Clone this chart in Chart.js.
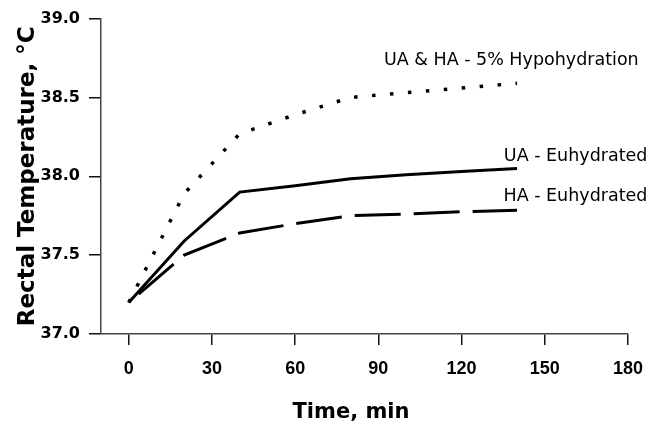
<!DOCTYPE html>
<html>
<head>
<meta charset="utf-8">
<script src="https://cdn.jsdelivr.net/npm/chart.js"></script>
<style>
  html, body { margin: 0; padding: 0; background: #fff; }
  #wrap { width: 652px; height: 428px; }
</style>
</head>
<body>
<div id="wrap"><canvas id="line-chart" width="652" height="428"></canvas></div>
<script>
// values (time in min, rectal temperature in °C)
const times = [0, 20, 40, 60, 80, 100, 120, 140];
const uaEuhydrated = [37.2, 37.59, 37.9, 37.94, 37.985, 38.01, 38.03, 38.05];
const haEuhydrated = [37.2, 37.5, 37.64, 37.7, 37.75, 37.76, 37.775, 37.785];
const hypohydrated = [37.2, 37.89, 38.27, 38.39, 38.5, 38.53, 38.56, 38.59];

const xTicks = [0, 30, 60, 90, 120, 150, 180];
const yTicks = [37.0, 37.5, 38.0, 38.5, 39.0];

const seriesNames = ['UA & HA - 5% Hypohydration', 'UA - Euhydrated', 'HA - Euhydrated'];

// where the series names sit, in data units
const nameSpots = [
    { x: 92, y: 38.704, align: 'left' },
    { x: 187, y: 38.094, align: 'right' },
    { x: 187, y: 37.843, align: 'right' }
];

function points(values) {
    return times.map((t, i) => ({ x: t, y: values[i] }));
}

const textPlugin = {
    id: 'texts',
    afterDraw(chart) {
        const ctx = chart.ctx;
        const xs = chart.scales.x;
        const ys = chart.scales.y;
        ctx.save();
        ctx.fillStyle = '#000';

        ctx.font = '17.5px "DejaVu Sans"';
        ctx.textBaseline = 'alphabetic';
        seriesNames.forEach((name, i) => {
            const spot = nameSpots[i];
            ctx.textAlign = spot.align;
            ctx.fillText(name, xs.getPixelForValue(spot.x), ys.getPixelForValue(spot.y));
        });

        // axis titles
        ctx.font = 'bold 21px "DejaVu Sans"';
        ctx.textAlign = 'center';
        ctx.fillText('Time, min', 351, 418);

        ctx.translate(34, (ys.top + ys.bottom) / 2);
        ctx.rotate(-Math.PI / 2);
        ctx.font = 'bold 23px "DejaVu Sans"';
        ctx.fillText('Rectal Temperature, °C', 0, 0);
        ctx.restore();
    }
};

new Chart(document.getElementById('line-chart'), {
    type: 'line',
    data: {
        datasets: [
            {
                data: points(hypohydrated),
                borderColor: '#000',
                borderWidth: 3.5,
                borderDash: [3.5, 14.5],
                borderCapStyle: 'butt',
                pointRadius: 0
            },
            {
                data: points(haEuhydrated),
                borderColor: '#000',
                borderWidth: 3,
                borderDash: [46, 13],
                borderDashOffset: -13,
                pointRadius: 0
            },
            {
                data: points(uaEuhydrated),
                borderColor: '#000',
                borderWidth: 3,
                pointRadius: 0
            }
        ]
    },
    options: {
        responsive: false,
        animation: false,
        layout: { padding: { top: 16, right: 24, bottom: 0, left: 0 } },
        plugins: {
            legend: { display: false },
            tooltip: { enabled: false }
        },
        scales: {
            x: {
                type: 'linear',
                min: -10,
                max: 180,
                afterBuildTicks: (scale) => { scale.ticks = xTicks.map(v => ({ value: v })); },
                afterFit: (scale) => {
                    scale.height = 94;
                    scale.paddingLeft = 0;
                    scale.paddingRight = 0;
                },
                grid: { drawOnChartArea: false, drawTicks: true, tickLength: 11, color: '#111', lineWidth: 1.5 },
                border: { display: true, color: '#444', width: 1.5 },
                ticks: {
                    color: '#000',
                    padding: 13,
                    maxRotation: 0,
                    font: { family: '"Liberation Sans", Arial', size: 18, weight: 'bold' }
                }
            },
            y: {
                min: 37,
                max: 39,
                afterBuildTicks: (scale) => { scale.ticks = yTicks.map(v => ({ value: v })); },
                afterFit: (scale) => { scale.width = 101; },
                grid: { drawOnChartArea: false, drawTicks: true, tickLength: 12, color: '#111', lineWidth: 1.5 },
                border: { display: true, color: '#444', width: 1.5 },
                ticks: {
                    color: '#000',
                    padding: 9,
                    callback: (v) => Number(v).toFixed(1),
                    font: { family: '"DejaVu Sans"', size: 16, weight: 'bold' }
                }
            }
        }
    },
    plugins: [textPlugin]
});
</script>
</body>
</html>
